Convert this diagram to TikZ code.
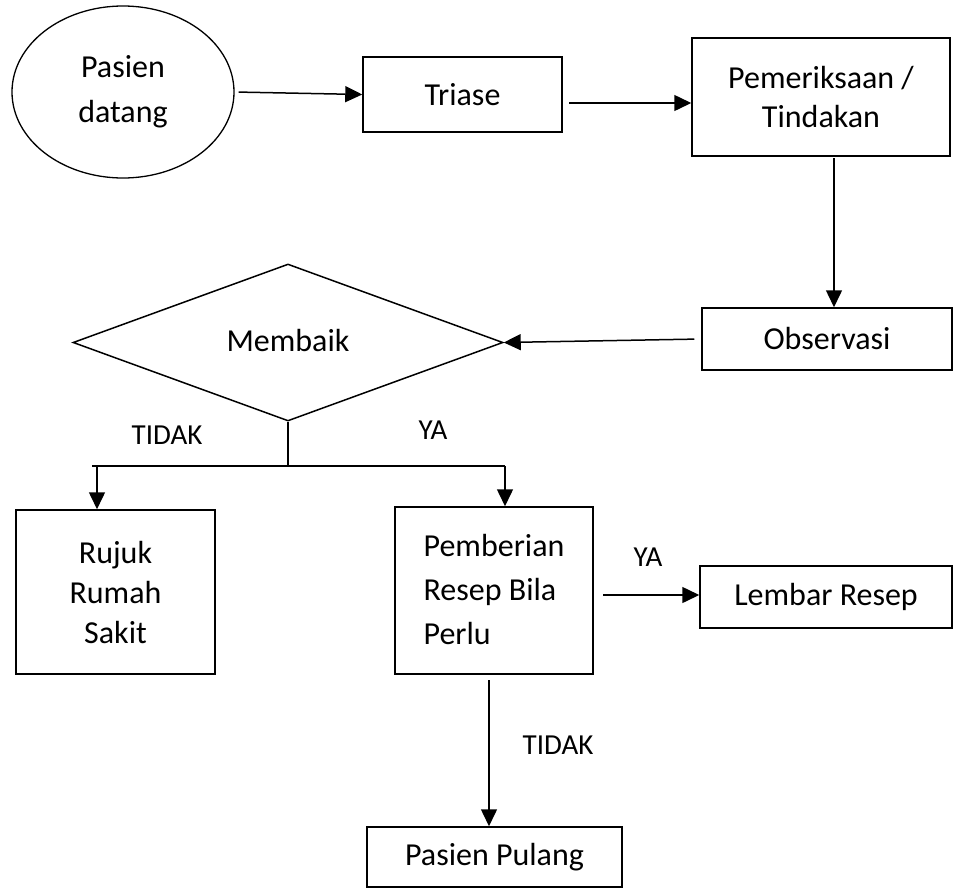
\documentclass[tikz,border=0pt]{standalone}
\usepackage{fontspec}
\setmainfont{Carlito}
\usetikzlibrary{shapes.geometric,arrows.meta,calc}
\begin{document}
\begin{tikzpicture}[x=1pt,y=-1pt,
  every node/.style={font=\fontsize{32}{39}\selectfont},
  box/.style={draw,line width=1.5pt,rectangle,inner sep=0pt,align=center},
  lbl/.style={font=\fontsize{29}{32}\selectfont,inner sep=0pt},
  arr/.style={draw,line width=1.5pt,-{Triangle[length=17pt,width=16pt]}},
  ln/.style={draw,line width=1.5pt}]
\useasboundingbox (0,0) rectangle (953,889);
\node[draw,ellipse,line width=1.3pt,minimum width=222pt,minimum height=172pt,inner sep=0pt,align=center,font=\fontsize{32}{45}\selectfont] (s) at (123,92) {Pasien\\datang};
\node[box,minimum width=199pt,minimum height=75pt] (t) at (462.5,94.5) {Triase};
\node[box,minimum width=258pt,minimum height=118pt] (pem) at (821,97) {Pemeriksaan /\\Tindakan};
\node[box,minimum width=250pt,minimum height=62pt] (obs) at (827,339) {Observasi};
\node[draw,diamond,aspect=2.74,line width=1.5pt,minimum width=430pt,minimum height=157pt,inner sep=0pt] (d) at (288,342.5) {\raisebox{4pt}{Membaik}};
\node[box,minimum width=199pt,minimum height=164pt,font=\fontsize{32}{40}\selectfont] (rs) at (115.5,592) {Rujuk\\Rumah\\Sakit};
\node[box,minimum width=198pt,minimum height=167pt,align=left,font=\fontsize{32}{44}\selectfont] (pb) at (494,590.5) {\raisebox{3pt}{Pemberian}\\\raisebox{3pt}{Resep Bila}\\\raisebox{3pt}{Perlu}};
\node[box,minimum width=252pt,minimum height=62pt] (lr) at (826,597) {Lembar Resep};
\node[box,minimum width=255pt,minimum height=60pt] (pp) at (494.5,857) {Pasien Pulang};
\coordinate (j) at (288,466);
\coordinate (jl) at (92,466);
\coordinate (jr) at (505,466);
\coordinate (al) at (97,466);
\coordinate (ta) at (569,103);
\coordinate (pa) at (834,158);
\coordinate (ba) at (603,595);
\coordinate (da) at (489,680);
\node[lbl] (tidak1) at (167,435) {TIDAK};
\node[lbl] (ya1) at (433,430) {YA};
\node[lbl] (ya2) at (648,557) {YA};
\node[lbl] (tidak2) at (558,745) {TIDAK};
% connectors
\draw[arr,shorten <=4pt] (s.east) -- (t.west);
\draw[arr] (ta) -- (ta -| pem.west);
\draw[arr] (pa) -- (pa |- obs.north);
\draw[arr,shorten <=7pt] (obs.west) -- (d.east);
\draw[ln] (d.south) -- (j);
\draw[ln] (jl) -- (jr);
\draw[arr] (al) -- (al |- rs.north);
\draw[arr] (jr) -- (jr |- pb.north);
\draw[arr] (ba) -- (ba -| lr.west);
\draw[arr] (da) -- (da |- pp.north);
\end{tikzpicture}
\end{document}
